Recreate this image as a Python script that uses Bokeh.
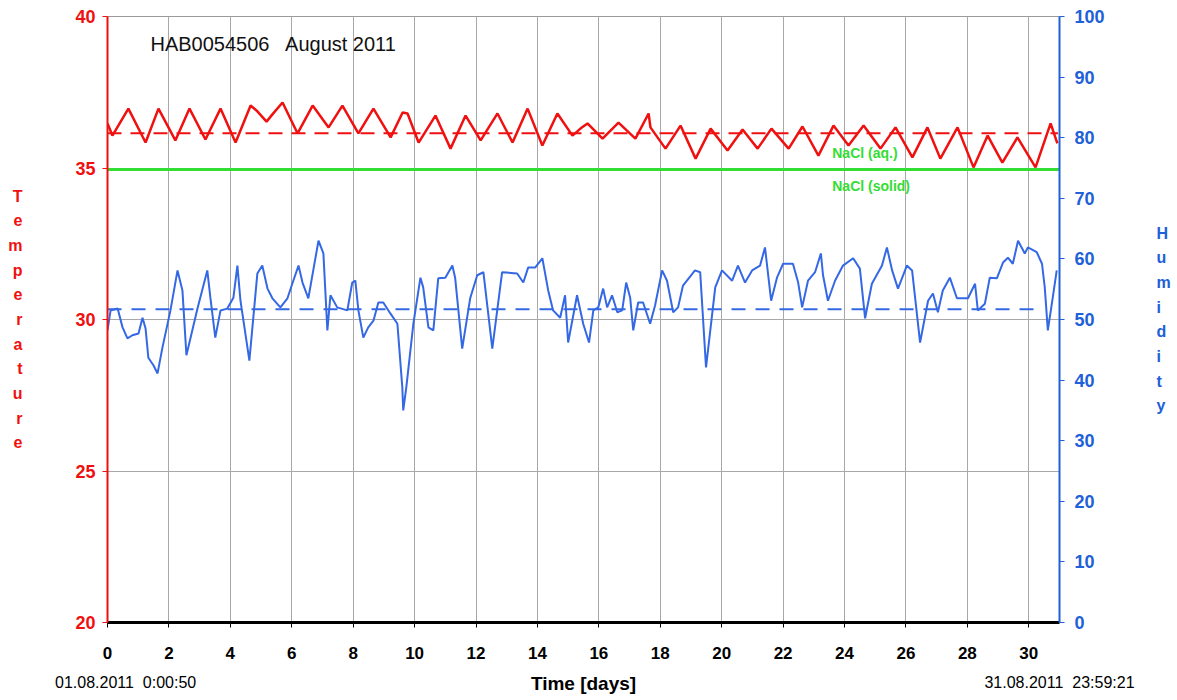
from bokeh.plotting import figure
from bokeh.models import Range1d, LinearAxis, FixedTicker, Label
from bokeh.embed import file_html
from bokeh.resources import INLINE

# ---------------- data ----------------
day_ticks = [0, 2, 4, 6, 8, 10, 12, 14, 16, 18, 20, 22, 24, 26, 28, 30]
temp_ticks = [20, 25, 30, 35, 40]
hum_ticks = [0, 10, 20, 30, 40, 50, 60, 70, 80, 90, 100]

temp_day = [0.00, 0.16, 0.68, 1.24, 1.66, 2.21, 2.67, 3.19, 3.68, 4.17,
            4.66, 4.85, 5.18, 5.37, 5.70, 6.19, 6.68, 7.20, 7.65, 8.17,
            8.66, 9.22, 9.61, 9.77, 10.13, 10.68, 11.17, 11.66, 12.15, 12.70,
            13.19, 13.68, 14.16, 14.65, 15.14, 15.40, 15.63, 16.12, 16.64, 17.19,
            17.62, 17.68, 18.17, 18.66, 19.15, 19.64, 20.19, 20.68, 21.17, 21.62,
            22.18, 22.63, 23.15, 23.64, 24.13, 24.62, 25.17, 25.66, 26.21, 26.70,
            27.12, 27.68, 28.20, 28.66, 29.14, 29.63, 30.22, 30.71, 30.93]
temp_val = [36.47, 36.07, 36.96, 35.84, 36.96, 35.91, 36.96, 35.94, 36.96, 35.84,
            37.06, 36.90, 36.53, 36.77, 37.16, 36.14, 37.06, 36.34, 37.06, 36.14,
            36.96, 36.01, 36.83, 36.80, 35.84, 36.73, 35.64, 36.73, 35.91, 36.80,
            35.84, 36.96, 35.74, 36.80, 36.07, 36.30, 36.47, 35.97, 36.50, 35.97,
            36.80, 36.34, 35.64, 36.40, 35.31, 36.30, 35.58, 36.27, 35.64, 36.30,
            35.64, 36.37, 35.41, 36.40, 35.74, 36.40, 35.64, 36.34, 35.35, 36.34,
            35.31, 36.34, 35.02, 36.07, 35.18, 36.01, 35.02, 36.47, 35.81]

hum_day = [0.00, 0.10, 0.33, 0.49, 0.65, 0.81, 1.01, 1.14, 1.24, 1.33,
           1.50, 1.63, 1.79, 2.05, 2.28, 2.44, 2.57, 2.93, 3.25, 3.35,
           3.51, 3.68, 3.90, 4.10, 4.23, 4.33, 4.62, 4.88, 5.04, 5.21,
           5.37, 5.63, 5.86, 6.05, 6.22, 6.35, 6.54, 6.70, 6.87, 7.03,
           7.16, 7.26, 7.48, 7.81, 7.97, 8.07, 8.17, 8.33, 8.49, 8.66,
           8.82, 8.98, 9.21, 9.44, 9.60, 9.63, 9.73, 9.96, 10.19, 10.28,
           10.45, 10.61, 10.77, 11.00, 11.23, 11.32, 11.55, 11.81, 12.04, 12.24,
           12.53, 12.85, 13.34, 13.54, 13.70, 13.93, 14.16, 14.35, 14.51, 14.74,
           14.90, 15.00, 15.29, 15.49, 15.68, 15.82, 15.98, 16.14, 16.27, 16.43,
           16.60, 16.76, 16.89, 17.02, 17.12, 17.28, 17.44, 17.67, 17.83, 18.06,
           18.22, 18.42, 18.58, 18.74, 19.13, 19.30, 19.49, 19.79, 20.01, 20.34,
           20.53, 20.76, 20.99, 21.25, 21.41, 21.61, 21.80, 22.00, 22.32, 22.49,
           22.62, 22.81, 23.04, 23.23, 23.30, 23.46, 23.69, 23.95, 24.28, 24.50,
           24.67, 24.89, 25.22, 25.38, 25.55, 25.74, 26.03, 26.20, 26.46, 26.72,
           26.88, 27.04, 27.20, 27.43, 27.66, 28.02, 28.25, 28.34, 28.57, 28.73,
           28.96, 29.16, 29.32, 29.48, 29.65, 29.87, 29.97, 30.26, 30.43, 30.52,
           30.62, 30.78, 30.91]
hum_val = [48.2, 51.5, 51.8, 48.7, 46.9, 47.4, 47.7, 50.3, 48.5, 43.7,
           42.4, 41.1, 45.4, 51.5, 58.1, 54.8, 44.1, 51.8, 58.1, 53.6,
           47.0, 51.5, 51.8, 53.6, 58.9, 53.1, 43.2, 57.6, 58.9, 55.1,
           53.5, 52.0, 53.5, 56.4, 58.9, 56.1, 53.5, 58.1, 63.0, 60.9,
           48.2, 54.0, 52.0, 51.5, 56.1, 56.4, 51.5, 47.0, 48.7, 49.8,
           52.8, 52.8, 51.0, 49.3, 38.8, 35.0, 38.8, 49.3, 56.9, 55.3,
           48.7, 48.2, 56.8, 56.9, 58.9, 56.9, 45.2, 53.5, 57.3, 57.8,
           45.2, 57.8, 57.6, 56.1, 58.6, 58.6, 60.1, 54.8, 51.5, 50.3,
           54.0, 46.2, 54.0, 49.3, 46.2, 51.5, 52.0, 55.1, 52.0, 54.0,
           51.2, 51.5, 56.1, 53.6, 48.2, 52.8, 52.8, 49.3, 52.3, 58.1,
           56.4, 51.2, 52.0, 55.6, 58.1, 57.8, 42.1, 55.3, 58.1, 56.4,
           58.9, 56.1, 58.1, 58.9, 61.9, 53.1, 56.9, 59.2, 59.2, 56.1,
           52.0, 56.4, 57.8, 60.9, 57.3, 53.1, 56.4, 58.9, 60.1, 58.4,
           50.2, 55.9, 58.9, 61.9, 58.1, 55.1, 58.9, 58.1, 46.2, 53.1,
           54.3, 51.2, 54.8, 56.9, 53.5, 53.5, 55.9, 51.5, 52.6, 56.9,
           56.8, 59.4, 60.2, 59.2, 63.0, 60.9, 61.9, 61.1, 59.2, 55.3,
           48.2, 53.6, 58.1]

temp_mean = 36.15
hum_mean = 51.7
nacl_level = 34.95

title_text = "HAB0054506\u00a0\u00a0 August 2011"
start_text = "01.08.2011\u00a0 0:00:50"
end_text = "31.08.2011\u00a0 23:59:21"

RED = "#f01010"
BLUE = "#3468e4"
AXBLUE = "#2060d8"
GREEN = "#33dd33"
FONT = "Liberation Sans"

p = figure(frame_width=952, frame_height=606,
           x_range=Range1d(0, 31), y_range=Range1d(20, 40),
           output_backend="svg", toolbar_location=None,
           min_border_left=107, min_border_right=112,
           min_border_top=16, min_border_bottom=76,
           background_fill_color="white", border_fill_color="white")
p.outline_line_color = "#9a9a9a"

# grids
p.xgrid.ticker = FixedTicker(ticks=day_ticks)
p.xgrid.grid_line_color = "#a8a8a8"
p.ygrid.ticker = FixedTicker(ticks=[25, 30, 35])
p.ygrid.grid_line_color = "#a8a8a8"

# x axis
xa = p.xaxis[0]
xa.ticker = FixedTicker(ticks=day_ticks)
xa.axis_line_color = "black"
xa.axis_line_width = 3
xa.major_tick_line_color = "black"
xa.major_tick_out = 5
xa.major_tick_in = 0
xa.minor_tick_line_color = None
xa.major_label_text_font = FONT
xa.major_label_text_font_style = "bold"
xa.major_label_text_font_size = "17px"
xa.major_label_text_color = "black"
xa.major_label_standoff = 19
xa.axis_label = "Time [days]"
xa.axis_label_text_font = FONT
xa.axis_label_text_font_style = "bold"
xa.axis_label_text_font_size = "19px"
xa.axis_label_text_color = "black"
xa.axis_label_standoff = 11


def date_axis(pos, text):
    ax = LinearAxis(ticker=FixedTicker(ticks=[pos]),
                    major_label_overrides={pos: text})
    ax.axis_line_color = None
    ax.major_tick_line_color = None
    ax.minor_tick_line_color = None
    ax.major_tick_out = 0
    ax.major_tick_in = 0
    ax.major_label_text_font = FONT
    ax.major_label_text_font_size = "16px"
    ax.major_label_text_color = "black"
    ax.major_label_standoff = -23
    return ax


# start / end time stamps (row of the x-axis title)
p.add_layout(date_axis(0.59, start_text), "below")
p.add_layout(date_axis(31.0, end_text), "below")

# left axis
ya = p.yaxis[0]
ya.ticker = FixedTicker(ticks=temp_ticks)
ya.axis_line_color = RED
ya.axis_line_width = 2
ya.major_tick_line_color = RED
ya.major_tick_out = 5
ya.major_tick_in = 0
ya.minor_tick_line_color = None
ya.major_label_text_font = FONT
ya.major_label_text_font_style = "bold"
ya.major_label_text_font_size = "18px"
ya.major_label_text_color = RED
ya.major_label_standoff = 7
ya.axis_label = "\n".join("Temperature")
ya.axis_label_orientation = "horizontal"
ya.axis_label_text_font = FONT
ya.axis_label_text_font_style = "bold"
ya.axis_label_text_font_size = "16px"
ya.axis_label_text_color = RED
ya.axis_label_text_line_height = 1.45
ya.axis_label_standoff = 50

# right axis
p.extra_y_ranges = {"hum": Range1d(0, 100)}
ra = LinearAxis(y_range_name="hum", ticker=FixedTicker(ticks=hum_ticks))
ra.axis_line_color = AXBLUE
ra.axis_line_width = 2
ra.major_tick_line_color = AXBLUE
ra.major_tick_out = 5
ra.major_tick_in = 0
ra.minor_tick_line_color = None
ra.major_label_text_font = FONT
ra.major_label_text_font_style = "bold"
ra.major_label_text_font_size = "18px"
ra.major_label_text_color = AXBLUE
ra.major_label_standoff = 10
ra.axis_label = "\n".join("Humidity")
ra.axis_label_orientation = "horizontal"
ra.axis_label_text_font = FONT
ra.axis_label_text_font_style = "bold"
ra.axis_label_text_font_size = "16px"
ra.axis_label_text_color = AXBLUE
ra.axis_label_text_line_height = 1.45
ra.axis_label_standoff = 49
p.add_layout(ra, "right")

# reference lines
p.line([0, 31], [nacl_level, nacl_level], line_color=GREEN, line_width=3)
p.line([0, 30.95], [temp_mean, temp_mean], line_color=RED, line_width=2, line_dash="14 9")
p.line([0, 30.45], [hum_mean, hum_mean], line_color=BLUE, line_width=2, line_dash="14 10",
       y_range_name="hum")

# series
p.line(hum_day, hum_val, line_color=BLUE, line_width=2, y_range_name="hum")
p.line(temp_day, temp_val, line_color=RED, line_width=2.5)

# texts inside the plot area
p.add_layout(Label(x=1.4, y=39.08, text=title_text,
                   text_font=FONT, text_font_size="20px", text_color="#111111",
                   text_baseline="middle", text_align="left"))
p.add_layout(Label(x=23.6, y=35.51, text="NaCl (aq.)", text_font=FONT,
                   text_font_size="14px", text_font_style="bold", text_color=GREEN,
                   text_baseline="middle", text_align="left"))
p.add_layout(Label(x=23.6, y=34.42, text="NaCl (solid)", text_font=FONT,
                   text_font_size="14px", text_font_style="bold", text_color=GREEN,
                   text_baseline="middle", text_align="left"))

open("out.html", "w").write(file_html(p, INLINE))
